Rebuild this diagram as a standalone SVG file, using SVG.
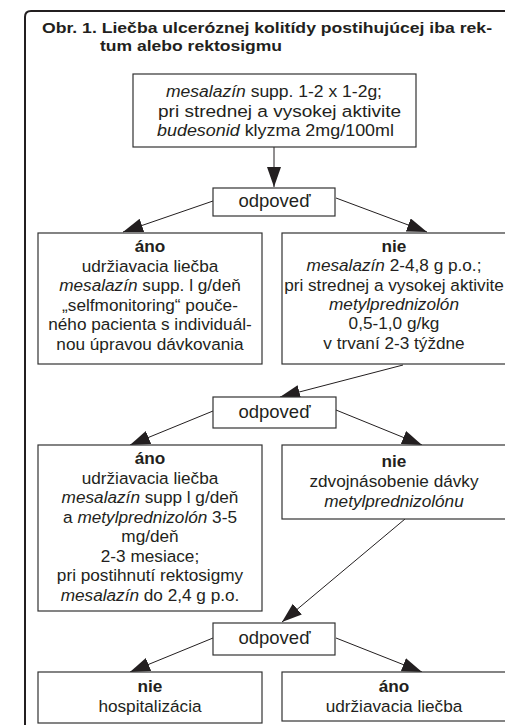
<svg xmlns="http://www.w3.org/2000/svg" width="505" height="725" viewBox="0 0 505 725">
<defs>
<style>
text{font-family:"Liberation Sans",Arial,sans-serif;fill:#231f20}
.t{font-size:17.2px;text-anchor:middle}
.tt{font-size:17.2px;text-anchor:middle}
.od{font-size:18.5px;text-anchor:middle}
.b{font-weight:bold}
.i{font-style:italic}
.title{font-size:15.5px;font-weight:bold}
.box{fill:#fff;stroke:#333;stroke-width:1.2}
.conn line{stroke:#231f20;stroke-width:1}
</style>
<marker id="ah" markerUnits="userSpaceOnUse" markerWidth="22" markerHeight="16" refX="20" refY="7" orient="auto">
<path d="M0,0 L20,7 L0,14 z" fill="#231f20"/>
</marker>
</defs>
<rect width="505" height="725" fill="#fff"/>
<path d="M25,730 L25,17 Q25,11 31,11 L510,11" fill="none" stroke="#231f20" stroke-width="2"/>
<g id="title">
<text class="title" x="42" y="33" textLength="450" lengthAdjust="spacingAndGlyphs">Obr. 1. Liečba ulceróznej kolitídy postihujúcej iba rek-</text>
<text class="title" x="100" y="51" textLength="182" lengthAdjust="spacingAndGlyphs">tum alebo rektosigmu</text>
</g>
<g class="conn">
<line x1="274" y1="147" x2="274" y2="187" marker-end="url(#ah)"/>
<line x1="213" y1="201" x2="123" y2="232" marker-end="url(#ah)"/>
<line x1="336" y1="198" x2="427" y2="232" marker-end="url(#ah)"/>
<line x1="403" y1="365" x2="280" y2="397" marker-end="url(#ah)"/>
<line x1="213" y1="411" x2="130" y2="445" marker-end="url(#ah)"/>
<line x1="336" y1="410" x2="422" y2="445" marker-end="url(#ah)"/>
<line x1="405" y1="519" x2="282" y2="622" marker-end="url(#ah)"/>
<line x1="213" y1="638" x2="130" y2="672" marker-end="url(#ah)"/>
<line x1="336" y1="638" x2="422" y2="672" marker-end="url(#ah)"/>
</g>
<g id="start">
<rect class="box" x="133" y="74" width="283" height="73"/>
<text class="tt" x="274" y="97" textLength="216" lengthAdjust="spacingAndGlyphs"><tspan class="i">mesalazín</tspan> supp. 1-2 x 1-2g;</text>
<text class="tt" x="279.5" y="116.5" textLength="243" lengthAdjust="spacingAndGlyphs">pri strednej a vysokej aktivite</text>
<text class="tt" x="275.5" y="136" textLength="237" lengthAdjust="spacingAndGlyphs"><tspan class="i">budesonid</tspan> klyzma 2mg/100ml</text>
</g>
<g id="odpoved1">
<rect class="box" x="213" y="188" width="122" height="28"/>
<text class="od" x="274.5" y="207">odpoveď</text>
</g>
<g id="ano1">
<rect class="box" x="38" y="233" width="224" height="131"/>
<text class="t" x="150" y="252"><tspan class="b">áno</tspan><tspan x="150" dy="19.5">udržiavacia liečba</tspan><tspan x="150" dy="19.5"><tspan class="i">mesalazín</tspan> supp. l g/deň</tspan><tspan x="150" dy="19.5">„selfmonitoring“ pouče-</tspan><tspan x="150" dy="19.5">ného pacienta s individuál-</tspan><tspan x="150" dy="19.5">nou úpravou dávkovania</tspan></text>
</g>
<g id="nie1">
<rect class="box" x="282" y="233" width="226" height="131"/>
<text class="t" x="394" y="252"><tspan class="b">nie</tspan><tspan x="394" dy="19.3"><tspan class="i">mesalazín</tspan> 2-4,8 g p.o.;</tspan><tspan x="394" dy="19.3">pri strednej a vysokej aktivite</tspan><tspan x="394" dy="19.3" class="i">metylprednizolón</tspan><tspan x="394" dy="19.3">0,5-1,0 g/kg</tspan><tspan x="394" dy="19.3">v trvaní 2-3 týždne</tspan></text>
</g>
<g id="odpoved2">
<rect class="box" x="213" y="397" width="123" height="31"/>
<text class="od" x="274.5" y="418">odpoveď</text>
</g>
<g id="ano2">
<rect class="box" x="38" y="445" width="224" height="166"/>
<text class="t" x="150" y="464"><tspan class="b">áno</tspan><tspan x="150" dy="19.5">udržiavacia liečba</tspan><tspan x="150" dy="19.5"><tspan class="i">mesalazín</tspan> supp l g/deň</tspan><tspan x="150" dy="19.5">a <tspan class="i">metylprednizolón</tspan> 3-5</tspan><tspan x="150" dy="19.5">mg/deň</tspan><tspan x="150" dy="19.5">2-3 mesiace;</tspan><tspan x="150" dy="19.5">pri postihnutí rektosigmy</tspan><tspan x="150" dy="19.5"><tspan class="i">mesalazín</tspan> do 2,4 g p.o.</tspan></text>
</g>
<g id="nie2">
<rect class="box" x="282" y="445" width="226" height="74"/>
<text class="t" x="394" y="467"><tspan class="b">nie</tspan><tspan x="394" dy="20">zdvojnásobenie dávky</tspan><tspan x="394" dy="20" class="i">metylprednizolónu</tspan></text>
</g>
<g id="odpoved3">
<rect class="box" x="213" y="623" width="122" height="32"/>
<text class="od" x="274.5" y="644">odpoveď</text>
</g>
<g id="nie3">
<rect class="box" x="38" y="672" width="224" height="51"/>
<text class="t" x="150" y="692"><tspan class="b">nie</tspan><tspan x="150" dy="20">hospitalizácia</tspan></text>
</g>
<g id="ano3">
<rect class="box" x="282" y="672" width="226" height="49"/>
<text class="t" x="394" y="692"><tspan class="b">áno</tspan><tspan x="394" dy="20">udržiavacia liečba</tspan></text>
</g>
</svg>
